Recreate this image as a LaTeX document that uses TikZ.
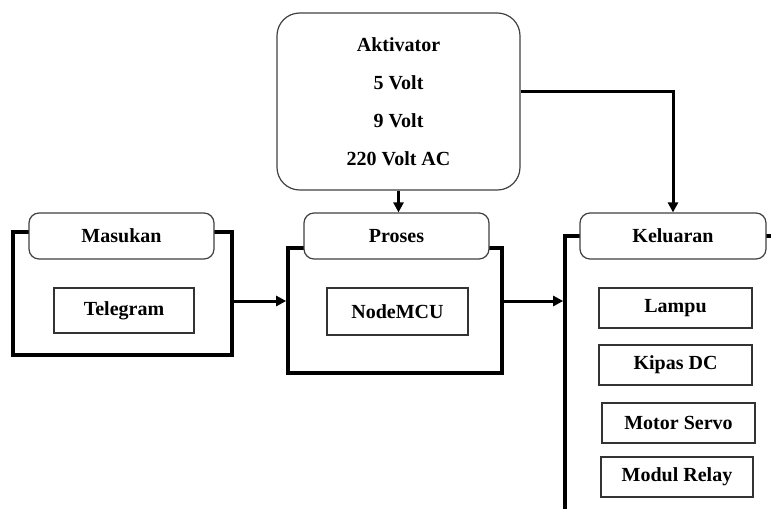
\documentclass[tikz,border=0pt]{standalone}
\usepackage{fontspec}
\setmainfont{Liberation Serif}
\usetikzlibrary{arrows.meta}

\tikzset{
  frame/.style={draw, line width=2.75pt, minimum width=#1},
  tab/.style={draw=black!75, line width=0.9pt, fill=white, rounded corners=7.5pt, minimum height=34.5pt},
  item/.style={draw=black!80, line width=0.8pt, fill=white},
  link/.style={line width=2.25pt, -{Triangle[length=7.5pt,width=7.5pt]}},
}

\begin{document}
\begin{tikzpicture}[x=0.75pt, y=-0.75pt, font=\fontsize{15}{18}\selectfont\bfseries, inner sep=0pt]
  \useasboundingbox (0,0) rectangle (771,508);
  \clip (0,0) rectangle (771,508);

  % aktivator
  \node[draw=black!75, line width=0.9pt, rounded corners=17pt, minimum width=182.25pt, minimum height=132.75pt,
        align=center, font=\fontsize{15}{28.5}\selectfont\bfseries] (akt) at (398.5,101.5)
        {Aktivator\\5 Volt\\9 Volt\\220 Volt AC};

  % masukan
  \node[frame=164.25pt, minimum height=92.25pt] (masframe) at (122.5,293.5) {};
  \node[tab, minimum width=138.75pt] (mas) at (121.5,236) {Masukan};
  \node[item, minimum width=105pt, minimum height=33.75pt] (tele) at (124,310.5) {Telegram};

  % proses
  \node[frame=160.5pt, minimum height=93.75pt] (prosframe) at (395,310.5) {};
  \node[tab, minimum width=138.75pt] (pros) at (396.5,236) {Proses};
  \node[item, minimum width=105.75pt, minimum height=35.25pt] (mcu) at (397.5,311.5) {NodeMCU};

  % keluaran
  \node[frame=176.25pt, minimum height=228pt] (kelframe) at (682.5,388) {};
  \node[tab, minimum width=139.5pt] (kel) at (673,236) {Keluaran};
  \node[item, minimum width=114.75pt, minimum height=30pt] (lampu) at (675.5,308) {Lampu};
  \node[item, minimum width=114.75pt, minimum height=30pt] (kipas) at (675.5,365) {Kipas DC};
  \node[item, minimum width=114.75pt, minimum height=30pt] (servo) at (678.5,423) {Motor Servo};
  \node[item, minimum width=114pt, minimum height=30pt] (relay) at (677,477) {Modul Relay};

  % connectors
  \draw[link] (akt.south) -- (akt.south |- pros.north);
  \draw[link] (akt.east |- 0,91) -| (kel.north);
  \draw[link] (masframe.east |- 0,301) -- (prosframe.west |- 0,301);
  \draw[link] (prosframe.east |- 0,301) -- (kelframe.west |- 0,301);
\end{tikzpicture}
\end{document}
